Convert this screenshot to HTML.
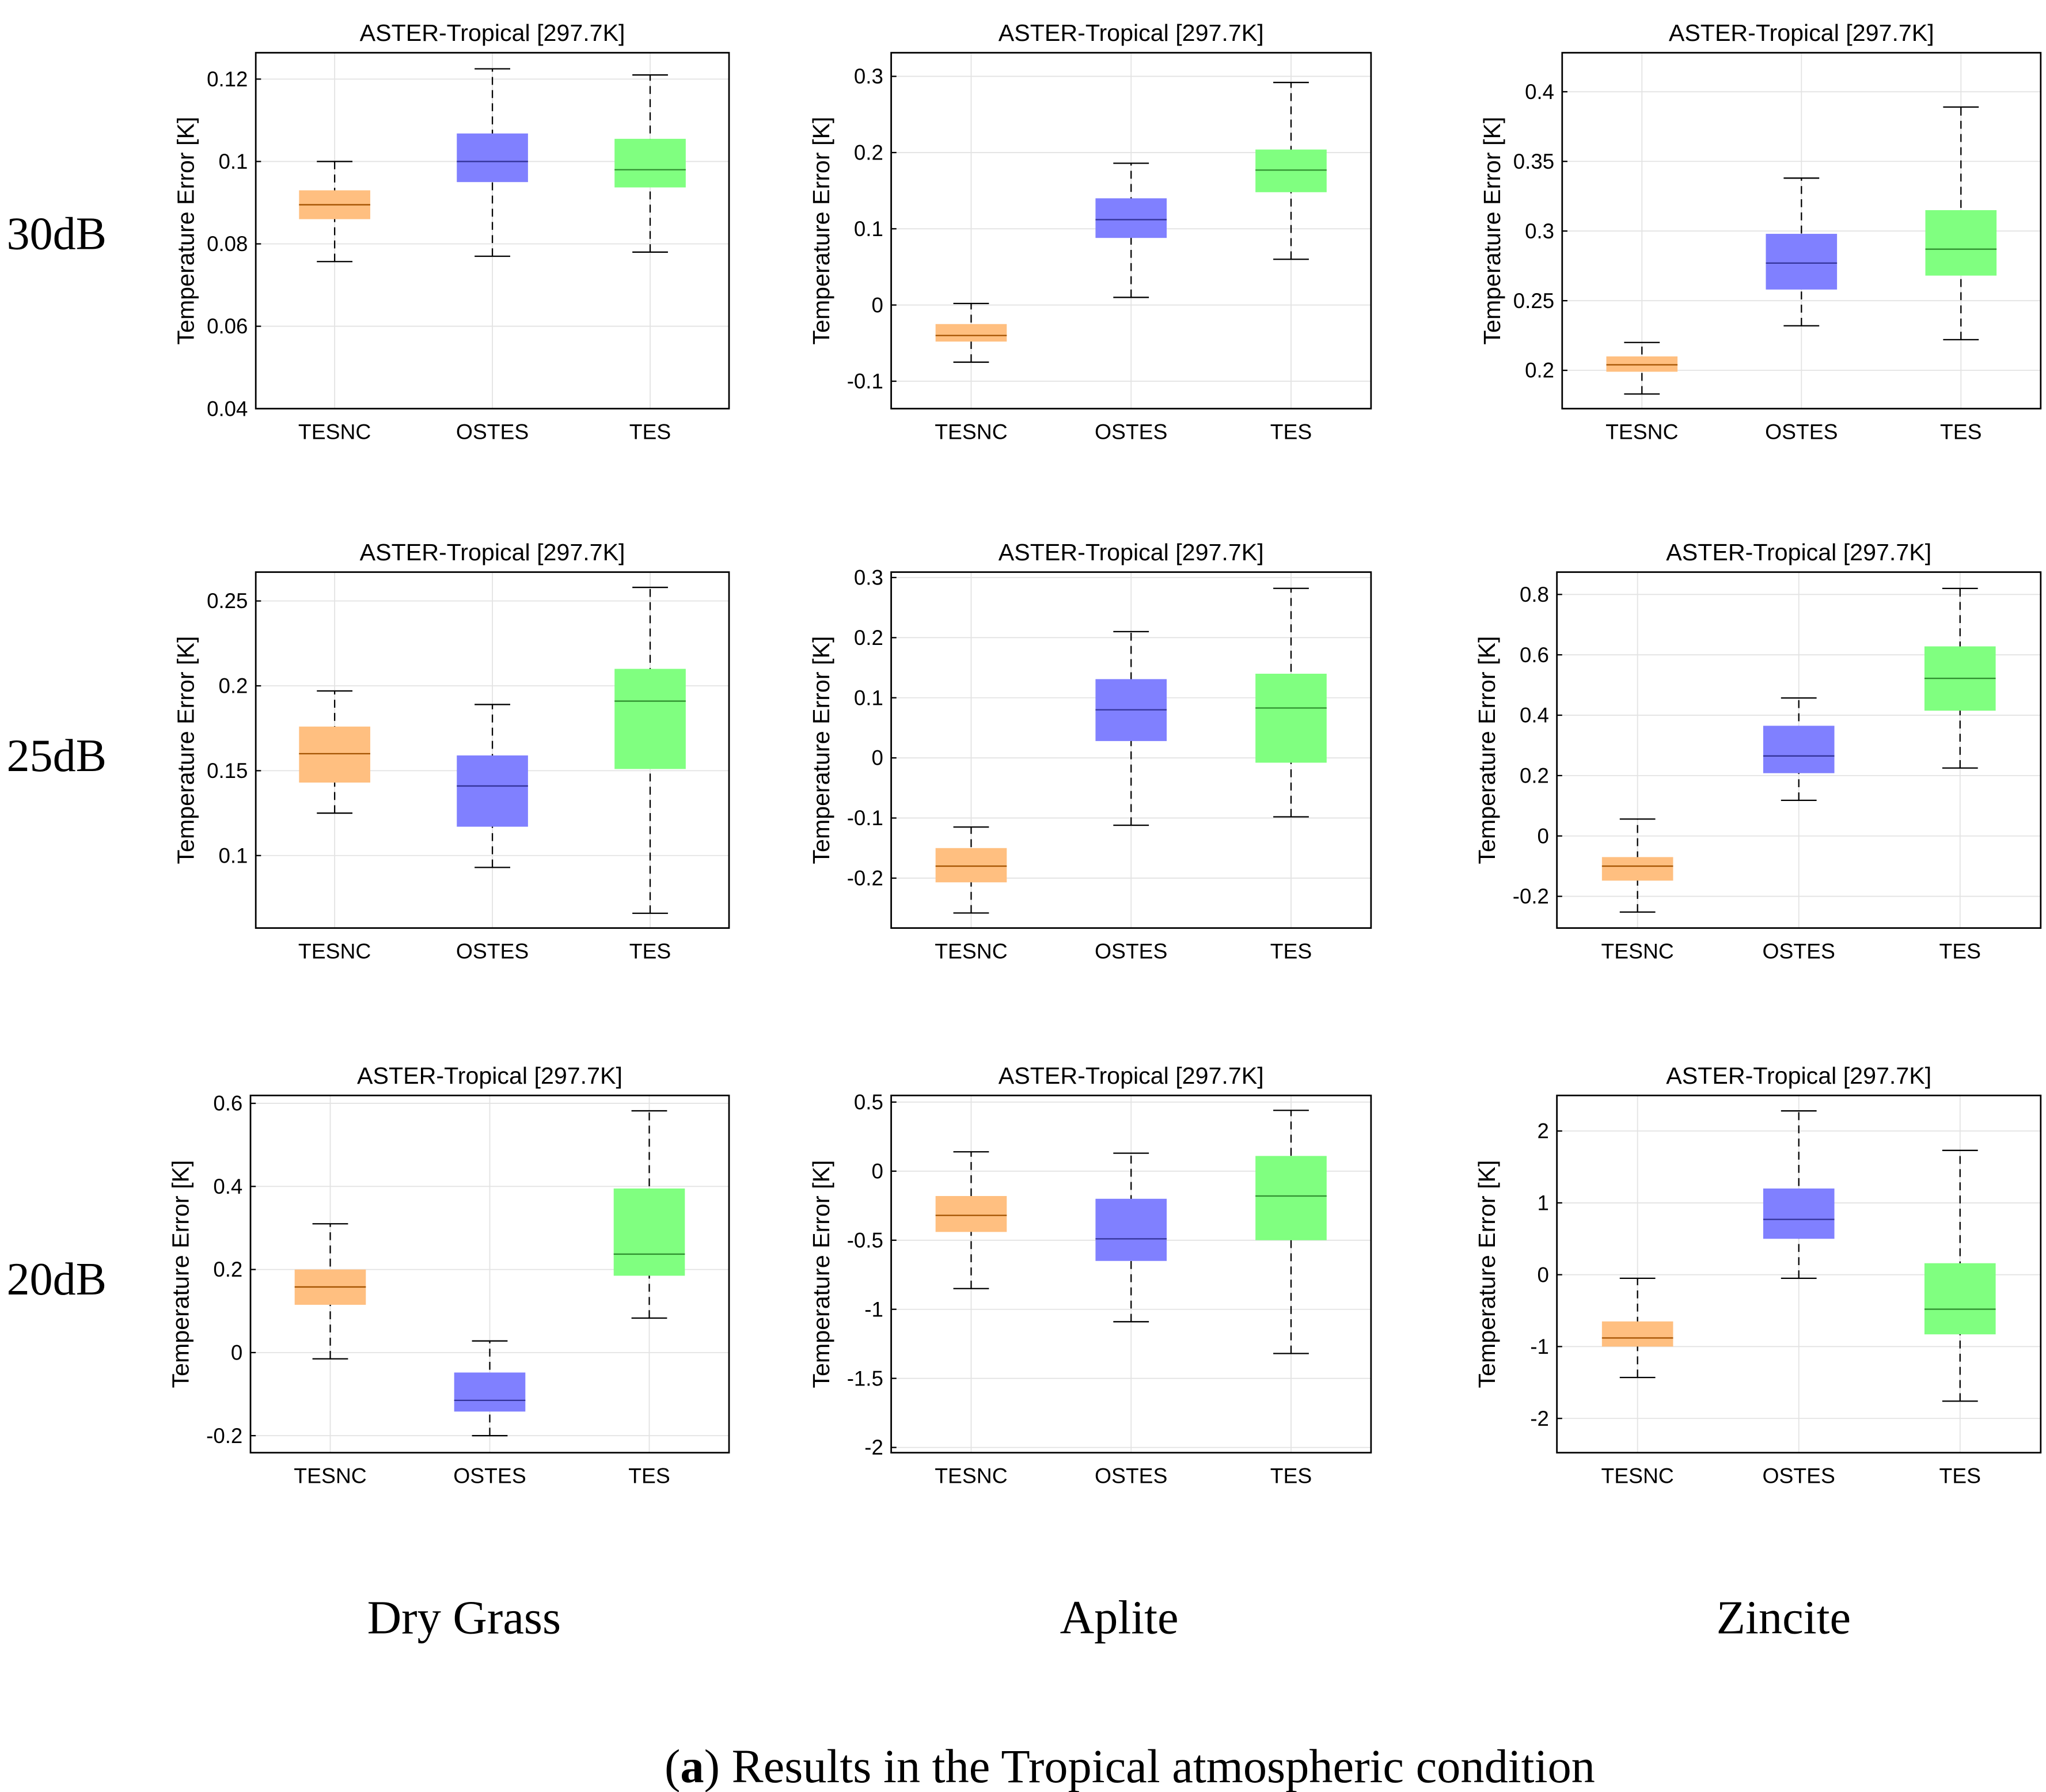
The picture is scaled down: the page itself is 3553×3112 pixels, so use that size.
<!DOCTYPE html>
<html><head><meta charset="utf-8"><style>html,body{margin:0;padding:0;background:#fff}svg{display:block}</style></head>
<body>
<svg id="fig" xmlns="http://www.w3.org/2000/svg" width="3553" height="3112" viewBox="0 0 1552 1359.4">
<rect width="1552" height="1359.4" fill="#fff"/>
</svg>
<script>
const categories = ["TESNC","OSTES","TES"];
const rowLabels = ["30dB","25dB","20dB"];
const colLabels = ["Dry Grass","Aplite","Zincite"];
// per panel: [whiskLow, q1, median, q3, whiskHigh] for TESNC, OSTES, TES
const p11 = [[0.0757,0.086,0.0895,0.093,0.1],[0.077,0.095,0.1,0.1068,0.1225],[0.078,0.0937,0.098,0.1055,0.121]];
const p12 = [[-0.075,-0.048,-0.04,-0.025,0.002],[0.01,0.088,0.112,0.14,0.186],[0.06,0.148,0.177,0.204,0.292]];
const p13 = [[0.183,0.199,0.204,0.21,0.22],[0.232,0.258,0.277,0.298,0.338],[0.222,0.268,0.287,0.315,0.389]];
const p21 = [[0.125,0.143,0.16,0.176,0.197],[0.093,0.117,0.141,0.159,0.189],[0.066,0.151,0.191,0.21,0.258]];
const p22 = [[-0.258,-0.207,-0.18,-0.15,-0.115],[-0.112,0.028,0.08,0.131,0.21],[-0.098,-0.008,0.083,0.14,0.282]];
const p23 = [[-0.252,-0.148,-0.1,-0.07,0.056],[0.118,0.208,0.265,0.365,0.457],[0.225,0.415,0.522,0.628,0.82]];
const p31 = [[-0.015,0.115,0.158,0.2,0.31],[-0.2,-0.142,-0.115,-0.048,0.028],[0.083,0.185,0.237,0.395,0.582]];
const p32 = [[-0.85,-0.44,-0.32,-0.18,0.14],[-1.09,-0.65,-0.49,-0.2,0.13],[-1.32,-0.5,-0.18,0.11,0.44]];
const p33 = [[-1.43,-1.0,-0.88,-0.65,-0.05],[-0.05,0.5,0.77,1.2,2.28],[-1.76,-0.83,-0.48,0.16,1.73]];
const ticks11=[0.04,0.06,0.08,0.1,0.12], ticks12=[-0.1,0,0.1,0.2,0.3], ticks13=[0.2,0.25,0.3,0.35,0.4];
const ticks21=[0.1,0.15,0.2,0.25], ticks22=[-0.2,-0.1,0,0.1,0.2,0.3], ticks23=[-0.2,0,0.2,0.4,0.6,0.8];
const ticks31=[-0.2,0,0.2,0.4,0.6], ticks32=[-2,-1.5,-1,-0.5,0,0.5], ticks33=[-2,-1,0,1,2];
const ranges=[[0.04,0.1264],[-0.136,0.331],[0.1725,0.428],[0.0573,0.267],[-0.283,0.309],[-0.305,0.874],[-0.241,0.619],[-2.038,0.548],[-2.477,2.495]];
const panels=[
 {d:p11,t:ticks11,x0:194,x1:553,y0:40,y1:310},
 {d:p12,t:ticks12,x0:676,x1:1040,y0:40,y1:310},
 {d:p13,t:ticks13,x0:1185,x1:1548,y0:40,y1:310},
 {d:p21,t:ticks21,x0:194,x1:553,y0:434,y1:704},
 {d:p22,t:ticks22,x0:676,x1:1040,y0:434,y1:704},
 {d:p23,t:ticks23,x0:1181,x1:1548,y0:434,y1:704},
 {d:p31,t:ticks31,x0:190,x1:553,y0:831,y1:1102},
 {d:p32,t:ticks32,x0:676,x1:1040,y0:831,y1:1102},
 {d:p33,t:ticks33,x0:1181,x1:1548,y0:831,y1:1102}];
const fills=["#ffbf80","#8080ff","#80ff80"], meds=["#a35200","#333399","#2f8f2f"];
const svg=document.getElementById('fig');
const NS="http://www.w3.org/2000/svg";
function mk(tag,attrs,parent,text){const e=document.createElementNS(NS,tag);for(const k in attrs)e.setAttribute(k,attrs[k]);if(text!==undefined)e.textContent=text;(parent||svg).appendChild(e);return e;}
panels.forEach((p,i)=>{
 const g=mk('g',{});
 
 
 const [lo,hi]=ranges[i];
 const ys=v=>p.y1-(v-lo)/(hi-lo)*(p.y1-p.y0);
 const w=p.x1-p.x0, xs=k=>p.x0+w*(2*k+1)/6;
 p.t.forEach(v=>{const l=mk('line',{x1:p.x0,x2:p.x1,y1:ys(v),y2:ys(v),stroke:'#e3e3e3','stroke-width':0.8},g);});
 categories.forEach((c,k)=>{mk('line',{x1:xs(k),x2:xs(k),y1:p.y0,y2:p.y1,stroke:'#e3e3e3','stroke-width':0.8},g);});
 p.d.forEach((b,k)=>{
  const bg=mk('g',{},g);
  
  
  const x=xs(k);
  mk('line',{x1:x,x2:x,y1:ys(b[0]),y2:ys(b[4]),stroke:'#000','stroke-width':1,'stroke-dasharray':'6,4'},bg);
  mk('line',{x1:x-13.5,x2:x+13.5,y1:ys(b[0]),y2:ys(b[0]),stroke:'#000','stroke-width':1},bg);
  mk('line',{x1:x-13.5,x2:x+13.5,y1:ys(b[4]),y2:ys(b[4]),stroke:'#000','stroke-width':1},bg);
  mk('rect',{x:x-27,y:ys(b[3]),width:54,height:ys(b[1])-ys(b[3]),fill:fills[k]},bg);
  mk('line',{x1:x-27,x2:x+27,y1:ys(b[2]),y2:ys(b[2]),stroke:meds[k],'stroke-width':1},bg);
 });
 mk('rect',{x:p.x0,y:p.y0,width:w,height:p.y1-p.y0,fill:'none',stroke:'#000','stroke-width':1.2},g);
 p.t.forEach(v=>{
  mk('line',{x1:p.x0,x2:p.x0+4,y1:ys(v),y2:ys(v),stroke:'#000','stroke-width':1},g);
  const t=mk('text',{x:p.x0-6,y:ys(v)+5.5,'text-anchor':'end','font-size':16,'font-family':'Liberation Sans, sans-serif'},g,String(v));
  
 });
 categories.forEach((c,k)=>{const t=mk('text',{x:xs(k),y:p.y1+23,'text-anchor':'middle','font-size':16.3,'font-family':'Liberation Sans, sans-serif'},g,c);});
 const tt=mk('text',{x:(p.x0+p.x1)/2,y:p.y0-9,'text-anchor':'middle','font-size':18,'font-family':'Liberation Sans, sans-serif'},g,'ASTER-Tropical [297.7K]');
 
 const yl=p.x0-47, ym=(p.y0+p.y1)/2;
 const ya=mk('text',{x:yl,y:ym,'text-anchor':'middle','font-size':18,'font-family':'Liberation Sans, sans-serif',transform:'rotate(-90 '+yl+' '+ym+')'},g,'Temperature Error [K]');
 
});
rowLabels.forEach((r,i)=>{const t=mk('text',{x:5,y:[189,585,982][i],'font-size':35,'font-family':'Liberation Serif, serif'},svg,r);});
colLabels.forEach((c,i)=>{const t=mk('text',{x:[352,849,1353][i],y:1239,'text-anchor':'middle','font-size':36,'font-family':'Liberation Serif, serif'},svg,c);});
const cap=mk('text',{x:857,y:1352,'text-anchor':'middle','font-size':36,'font-family':'Liberation Serif, serif'},svg);

mk('tspan',{},cap,'(');mk('tspan',{'font-weight':'bold'},cap,'a');mk('tspan',{},cap,') Results in the Tropical atmospheric condition');
</script>
</body></html>
